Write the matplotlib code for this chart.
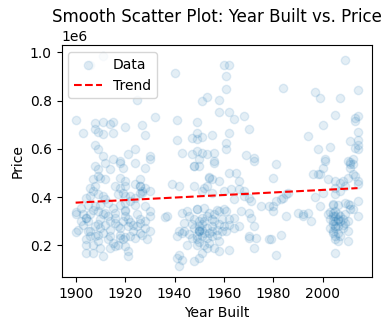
import numpy as np
import matplotlib
matplotlib.use("Agg")
import matplotlib.pyplot as plt

# Year built / price (thousands of dollars), grouped by region
year_built = [
    # upper left
    1906, 1911, 1925, 1900, 1908, 1911, 1915, 1914, 1920, 1927, 1932, 1903, 1908,
    1909, 1911, 1915, 1928, 1908, 1909, 1924, 1921, 1911, 1915, 1918, 1930, 1930,
    # upper middle
    1960, 1962, 1940, 1961, 1961, 1951, 1953, 1958, 1958, 1962, 1964, 1968, 1941,
    1949, 1970, 1941, 1947, 1949, 1949, 1951, 1955, 1962, 1961, 1961, 1943, 1947,
    1949, 1951, 1953, 1956, 1969, 1972, 1950, 1956, 1981,
    # upper right
    2009, 1984, 1997, 1999, 2007, 2014, 2005, 2013, 2013, 2014, 2000, 1994, 1998,
    2003, 2011, 2014, 2014, 2014, 2014, 2013, 2001, 2012, 2010, 2011, 2012,
    # lower left
    1908, 1909, 1914, 1919, 1924, 1928, 1918, 1912,
    1909, 1910, 1912, 1907, 1918, 1920, 1926,
    1906, 1908, 1907, 1916, 1918, 1920, 1924, 1926, 1928, 1930, 1927,
    1904, 1906, 1909, 1911, 1912, 1917, 1919, 1920, 1922, 1924, 1926,
    1902, 1905, 1908, 1910, 1913, 1915, 1918, 1920, 1922, 1924, 1928,
    1900, 1904, 1906, 1909, 1911, 1913, 1916, 1920, 1920, 1925, 1926, 1930, 1930, 1936,
    1901, 1903, 1905, 1908, 1910, 1912, 1914, 1916, 1918, 1921, 1923, 1926, 1928, 1930,
    1904, 1906, 1909, 1909, 1914, 1918, 1919, 1922, 1924, 1927, 1929,
    1904, 1907, 1910, 1914, 1916, 1920, 1921, 1904, 1907, 1911, 1921,
    1904, 1918, 1926, 1927, 1920,
    1903, 1905, 1907, 1909, 1910, 1912, 1914, 1916, 1917, 1919, 1921, 1922, 1923,
    1925, 1926, 1928, 1906, 1908, 1911, 1913, 1915, 1917, 1920, 1902, 1900, 1900,
    # lower middle
    1948, 1950, 1956, 1972,
    1939, 1942, 1954, 1955, 1952, 1958, 1962, 1965, 1966, 1966, 1970, 1971, 1975, 1978,
    1953, 1951, 1955, 1948, 1960, 1963, 1968, 1964, 1968,
    1949, 1952, 1954, 1958, 1960, 1961, 1956, 1951, 1950, 1955, 1945, 1943, 1948, 1944,
    1967, 1970, 1971, 1964, 1962, 1962, 1937,
    1950, 1951, 1952, 1953, 1955, 1957, 1958, 1959, 1949, 1942, 1943, 1941, 1961, 1964,
    1966, 1972, 1970, 1973, 1970, 1978, 1972, 1962, 1958, 1953, 1949, 1945, 1942, 1943,
    1941, 1942, 1948, 1950, 1951,
    1950, 1950, 1949, 1954, 1948, 1957,
    1946, 1947, 1948, 1949, 1950, 1951, 1952, 1953, 1954, 1955, 1956, 1957, 1958,
    1959, 1960, 1947, 1950, 1952, 1954, 1956, 1944, 1946, 1951, 1953, 1955,
    # lower right
    1980, 2001, 2000, 2011, 2011, 2012, 2013, 2014, 2014,
    1996, 1998, 1999, 2002, 2005, 2007, 2008, 2010,
    2005, 2009, 2007, 2005, 1997, 2000, 1983, 1984, 1986, 1985, 1981, 1980, 1980,
    1999, 2004, 2006, 2009, 2011, 2014, 2011, 2005, 2004,
    1985, 1990, 1992, 1994, 1995, 1992, 2004, 2006, 2007, 2008, 2005, 2003, 2009, 2010,
    2004, 2005, 2006, 2005, 2010, 1983, 2005, 1981, 1979,
    2006, 2004, 2010,
    2003, 2004, 2005, 2006, 2007, 2008, 2004, 2005, 2006, 2007, 2008, 2009, 2010,
    2003, 2002, 2005, 2006, 2004, 2012, 2014,
]

price_k = [
    # upper left
    946, 987, 804, 720, 708, 712, 712, 704, 690, 700, 733, 667, 683,
    670, 662, 667, 658, 617, 600, 600, 580, 570, 558, 550, 570, 558,
    # upper middle
    950, 950, 913, 904, 850, 800, 817, 804, 754, 754, 725, 738, 720,
    712, 683, 637, 646, 667, 642, 650, 658, 667, 625, 600, 583, 580,
    592, 583, 580, 583, 575, 562, 558, 550, 537,
    # upper right
    970, 854, 837, 812, 812, 846, 742, 729, 717, 738, 700, 654, 600,
    608, 633, 671, 637, 617, 600, 604, 558, 558, 550, 545, 537,
    # lower left
    529, 515, 515, 522, 543, 522, 543, 543,
    488, 480, 474, 474, 480, 467, 474,
    439, 446, 425, 446, 439, 446, 453, 446, 439, 425, 418,
    397, 404, 411, 404, 390, 411, 418, 404, 404, 397, 418,
    356, 369, 362, 369, 376, 356, 369, 376, 383, 369, 362,
    328, 314, 328, 342, 328, 321, 335, 342, 321, 328, 307, 342, 321, 317,
    265, 286, 258, 279, 272, 286, 265, 293, 272, 279, 286, 293, 272, 258,
    224, 238, 244, 217, 238, 244, 224, 238, 230, 244, 224,
    203, 203, 189, 189, 196, 196, 175, 168, 168, 154, 154,
    312, 230, 448, 425, 345,
    330, 300, 345, 290, 310, 335, 300, 315, 280, 300, 310, 295, 260,
    280, 250, 300, 260, 240, 250, 225, 210, 200, 235, 300, 340, 255,
    # lower middle
    529, 529, 543, 550,
    453, 446, 480, 474, 439, 467, 501, 501, 467, 432, 397, 383, 362, 362,
    446, 425, 418, 446, 425, 432, 425, 390, 404,
    349, 356, 335, 342, 349, 342, 328, 314, 300, 307, 342, 335, 307, 293,
    342, 335, 314, 314, 307, 286, 321,
    258, 265, 251, 230, 237, 244, 217, 258, 224, 258, 251, 237, 258, 272,
    279, 279, 230, 230, 237, 224, 189, 182, 175, 189, 203, 203, 161, 140,
    147, 112, 133, 147, 168,
    258, 262, 349, 482, 529, 345,
    320, 290, 270, 240, 280, 240, 300, 270, 250, 280, 300, 265, 290,
    310, 280, 230, 215, 200, 210, 190, 260, 245, 290, 320, 260,
    # lower right
    480, 550, 522, 536, 522, 494, 488, 467, 453,
    494, 497, 494, 474, 467, 460, 467, 480,
    439, 446, 425, 411, 400, 418, 390, 397, 418, 411, 383, 362, 342,
    362, 369, 369, 376, 369, 383, 349, 342, 335,
    321, 335, 328, 335, 300, 321, 321, 307, 300, 286, 279, 272, 293, 258,
    251, 237, 217, 224, 217, 244, 168, 161, 224,
    305, 370, 370,
    310, 290, 300, 280, 320, 270, 260, 270, 250, 240, 310, 330, 300,
    340, 330, 320, 330, 300, 350, 320,
]

x = np.array(year_built, dtype=float)
y = np.array(price_k, dtype=float) * 1000

fig, ax = plt.subplots(figsize=(3.92, 3.29), dpi=100)
fig.subplots_adjust(left=0.157, right=0.948, top=0.863, bottom=0.158)

ax.scatter(x, y, alpha=0.12, label='Data')

# linear trend fitted to the points
coef = np.polyfit(x, y, 1)
xs = np.array([x.min(), x.max()])
ax.plot(xs, np.polyval(coef, xs), 'r--', label='Trend')

ax.set_title('Smooth Scatter Plot: Year Built vs. Price')
ax.set_xlabel('Year Built')
ax.set_ylabel('Price')
ax.legend(loc='upper left')

fig.savefig('out.png', dpi=100)
